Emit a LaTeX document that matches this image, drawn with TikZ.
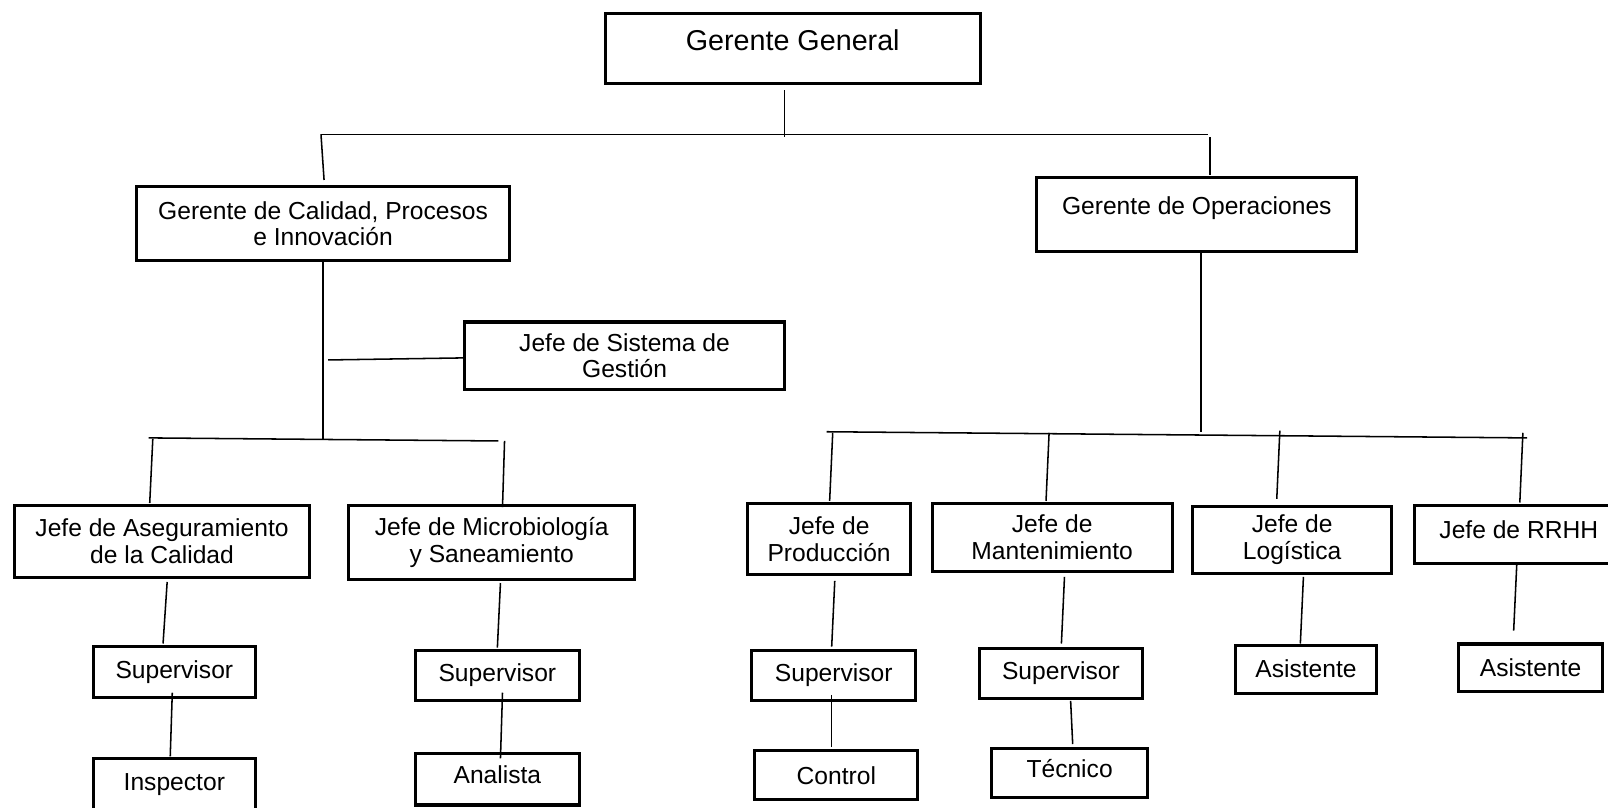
\documentclass[tikz,border=0pt]{standalone}
\usepackage{fontspec}
\setmainfont{Liberation Sans}
\usetikzlibrary{calc}
\begin{document}
\begin{tikzpicture}[x=0.5pt,y=-0.5pt,
  box/.style={draw=black, line width=1.5pt, inner sep=0pt, align=center, font=\fontsize{12}{13}\selectfont},
  conn/.style={draw=black, line width=0.75pt}]
\useasboundingbox (0,0) rectangle (1568,787);
\fill[white] (0,0) rectangle (1568,787);
\clip (0,0) rectangle (1568,787);

% level 0 and 1
\node[box, anchor=north, minimum width=183pt, text height=18pt, text depth=16pt, font=\fontsize{14}{16}\selectfont] (gg) at (773,12) {Gerente General};
\node[box, minimum width=182pt, minimum height=36pt] (gc) at (315,218) {Gerente de Calidad, Procesos\\e Innovación};
\node[box, anchor=north, minimum width=156pt, text height=18pt, text depth=18pt] (go) at (1167,172) {Gerente de Operaciones};
\node[box, minimum width=156pt, minimum height=33pt] (js) at (609,347) {Jefe de Sistema de\\Gestión};

% left branch
\node[box, minimum width=144pt, minimum height=35pt] (ja) at (158,528) {Jefe de Aseguramiento\\de la Calidad};
\node[box, minimum width=139.5pt, minimum height=36pt] (jm) at (479.5,529) {Jefe de Microbiología\\y Saneamiento};
\node[box, minimum width=79pt, minimum height=25pt] (s1) at (170,655) {Supervisor};
\node[box, minimum width=79pt, minimum height=25pt] (i1) at (170,765) {Inspector};
\node[box, minimum width=80pt, minimum height=24.5pt] (s2) at (485,658.5) {Supervisor};
\node[box, minimum width=80pt, minimum height=25pt, text height=9pt, text depth=5pt] (a2) at (485,760) {Analista};

% right branch
\node[box, minimum width=79.5pt, minimum height=34.5pt] (jp) at (808.5,525.5) {Jefe de\\Producción};
\node[box, minimum width=117pt, minimum height=33pt] (jmt) at (1026,524) {Jefe de\\Mantenimiento};
\node[box, minimum width=97pt, minimum height=32.5pt] (jl) at (1260,526.5) {Jefe de\\Logística};
\node[box, anchor=north, minimum width=102pt, text height=16.5pt, text depth=12pt] (jr) at (1481,491) {Jefe de RRHH};
\node[box, minimum width=80pt, minimum height=24.5pt] (s3) at (813,658.5) {Supervisor};
\node[box, minimum width=79.5pt, minimum height=24pt] (c3) at (815.5,756) {Control};
\node[box, minimum width=79.5pt, minimum height=24.5pt] (s4) at (1034.5,656.5) {Supervisor};
\node[box, minimum width=76pt, minimum height=24pt, text height=9pt, text depth=5pt] (t4) at (1043,754) {Técnico};
\node[box, minimum width=68.5pt, minimum height=23.5pt] (a5) at (1273.5,652.5) {Asistente};
\node[box, minimum width=70.5pt, minimum height=23pt] (a6) at (1492.5,651) {Asistente};

% junction coordinates
\coordinate (tj) at (765,134);
\coordinate (tl) at (313,131);
\coordinate (tr) at (1178,131);
\coordinate (lj) at (315,429);
\coordinate (sj) at (320,351);
\coordinate (lbl) at (145,427);
\coordinate (lbr) at (486,430);
\coordinate (rj) at (1171,421);
\coordinate (rbl) at (806,421);
\coordinate (rbr) at (1489,427);
\coordinate (rb1) at (812,422);
\coordinate (rb2) at (1023,422);
\coordinate (rb3) at (1248,420);
\coordinate (rb4) at (1485,422);
\coordinate (rf) at (1476,615);

% top connectors
\draw[conn] ($(gg.south)+(-8,5)$) -- (tj);
\draw[conn] (tl) -- (tr);
\draw[conn] (tl) -- ($(gc.north)+(1,-5)$);
\draw[conn] ($(tr)+(2,3)$) -- ($(go.north)+(13,-1)$);

% left connectors
\draw[conn] (gc.south) -- (lj);
\draw[conn] (sj) -- ($(js.west)+(0,2)$);
\draw[conn] (lbl) -- (lbr);
\draw[conn] ($(lbl)+(4,1)$) -- ($(ja.north)+(-12,-1)$);
\draw[conn] ($(lbr)+(6,0)$) -- ($(jm.north)+(10.5,3)$);
\draw[conn] ($(ja.south)+(5,3)$) -- ($(s1.north)+(-11,-1)$);
\draw[conn] ($(s1.south)+(-2,-6)$) -- ($(i1.north)+(-4,-1)$);
\draw[conn] ($(jm.south)+(8.5,2)$) -- ($(s2.north)+(0,-1)$);
\draw[conn] ($(s2.south)+(5,-9)$) -- ($(a2.north)+(3,6)$);

% right connectors
\draw[conn] ($(go.south)+(4,0)$) -- (rj);
\draw[conn] (rbl) -- (rbr);
\draw[conn] (rb1) -- ($(jp.north)+(0.5,-1)$);
\draw[conn] (rb2) -- ($(jmt.north)+(-6,-1)$);
\draw[conn] (rb3) -- ($(jl.north)+(-15,-6)$);
\draw[conn] (rb4) -- ($(jr.north)+(1,-1)$);
\draw[conn] ($(jp.south)+(5.5,5)$) -- ($(s3.north)+(-2,-2)$);
\draw[conn] ($(s3.south)+(-2,-7)$) -- ($(c3.north)+(-4.5,-2)$);
\draw[conn] ($(jmt.south)+(12,4)$) -- ($(s4.north)+(0.5,-3)$);
\draw[conn] ($(s4.south)+(9.5,1)$) -- ($(t4.north)+(3,-3)$);
\draw[conn] ($(jl.south)+(11,2)$) -- ($(a5.north)+(-5.5,0)$);
\draw[conn] ($(jr.south)+(-2,0)$) -- (rf);
\end{tikzpicture}
\end{document}
